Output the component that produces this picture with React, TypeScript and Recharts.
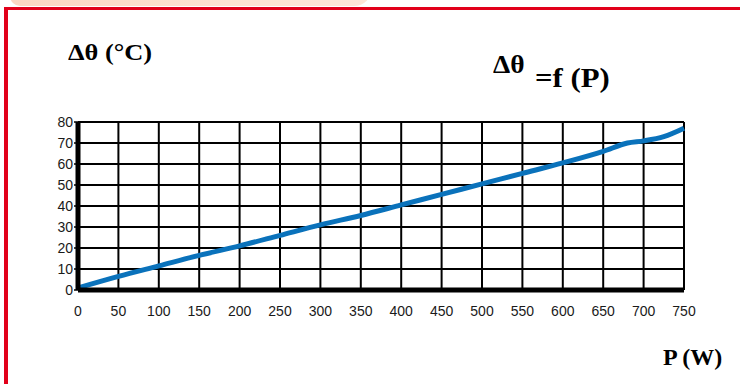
import { LineChart, Line, XAxis, YAxis, CartesianGrid } from 'recharts';

// power (W) against temperature rise (°C)
const powerW = [0, 50, 100, 150, 200, 250, 300, 350, 400, 450, 500, 550, 600, 650, 680, 700, 725, 750];
const deltaT = [1, 6.5, 11.5, 16.5, 21, 26, 31, 35.5, 40.5, 45.5, 50.5, 55.5, 60.5, 66, 70, 71, 73, 77];

const xTicks = [0, 50, 100, 150, 200, 250, 300, 350, 400, 450, 500, 550, 600, 650, 700, 750];
const yTicks = [0, 10, 20, 30, 40, 50, 60, 70, 80];

const data = powerW.map((p, i) => ({ p, dt: deltaT[i] }));

const RED = '#e2001a';
const serif = '"Liberation Serif", "Times New Roman", serif';
const tickFont = { fontFamily: '"Liberation Sans", Arial, sans-serif', fontSize: 14, fill: '#1a1a1a' };

const title = (left: number, top: number, size: number, sx = 1) => ({
  position: 'absolute' as const,
  left,
  top,
  fontFamily: serif,
  fontWeight: 'bold' as const,
  fontSize: size,
  lineHeight: 1,
  whiteSpace: 'nowrap' as const,
  transform: `scaleX(${sx})`,
  transformOrigin: 'left top',
});

export default function App() {
  return (
    <div style={{ position: 'absolute', left: 0, top: 0, width: 740, height: 384, background: '#fff', overflow: 'hidden' }}>
      {/* faded tab above the frame */}
      <div
        style={{
          position: 'absolute',
          left: 10,
          top: -12,
          width: 362,
          height: 18,
          borderRadius: '0 0 18px 10px',
          background: 'linear-gradient(to right, #fbd6c2, #fde2d2 60%, #fde6d8)',
        }}
      />
      {/* red frame */}
      <div style={{ position: 'absolute', left: 4, top: 7, right: 0, height: 3, background: RED }} />
      <div style={{ position: 'absolute', left: 4, top: 7, width: 4, bottom: 0, background: RED }} />

      <div style={title(68, 40, 24, 1.1)}>Δθ (°C)</div>
      <div style={title(493, 52, 25, 1.1)}>Δθ</div>
      <div style={title(535, 64, 28, 1.1)}>=f (P)</div>
      <div style={title(663, 345, 24)}>P (W)</div>

      <div style={{ position: 'absolute', left: 0, top: 0 }}>
        <LineChart width={740} height={384} data={data} margin={{ top: 122, right: 56, bottom: 64, left: 48 }}>
          <CartesianGrid stroke="#000" strokeWidth={2} horizontalValues={yTicks} verticalValues={xTicks} />
          <XAxis
            dataKey="p"
            type="number"
            domain={[0, 750]}
            ticks={xTicks}
            interval={0}
            height={30}
            axisLine={{ stroke: '#000', strokeWidth: 5 }}
            tickLine={false}
            tickMargin={10}
            tick={tickFont}
          />
          <YAxis
            type="number"
            domain={[0, 80]}
            ticks={yTicks}
            interval={0}
            width={30}
            axisLine={{ stroke: '#000', strokeWidth: 5 }}
            tickLine={{ stroke: '#000', strokeWidth: 1.5 }}
            tickSize={4}
            tickMargin={1}
            tick={tickFont}
          />
          <Line
            type="monotone"
            dataKey="dt"
            stroke="#0a72bb"
            strokeWidth={5}
            dot={false}
            isAnimationActive={false}
          />
        </LineChart>
      </div>
    </div>
  );
}
